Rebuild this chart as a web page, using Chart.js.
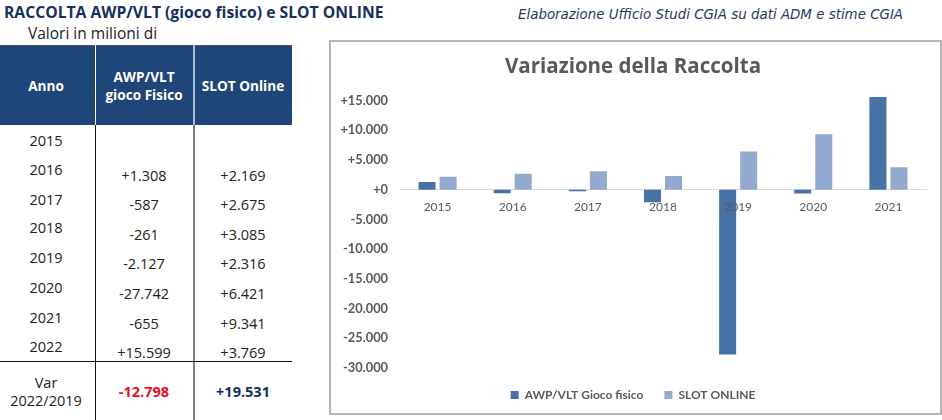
<!DOCTYPE html>
<html>
<head>
<meta charset="utf-8">
<script src="https://cdn.jsdelivr.net/npm/chart.js@4"></script>
<style>
  html, body { margin: 0; padding: 0; background: #fff; }
  body { width: 942px; height: 420px; position: relative; overflow: hidden; font-family: "Lato", sans-serif; }
  .abs { position: absolute; white-space: nowrap; line-height: 1; }
  .c { transform: translate(-50%, -50%); text-align: center; }
  #head { left: 4px; top: 5px; font-size: 15.7px; font-weight: 700; color: #14305f; font-family: "Open Sans", sans-serif; }
  #source { left: 518px; top: 8px; font-size: 13.4px; font-style: italic; color: #1f3864; font-family: "DejaVu Sans", sans-serif; }
  #unit { left: 28px; top: 26px; font-size: 15.5px; color: #222; font-family: "Open Sans", sans-serif; }
  #band { left: 0; top: 45px; width: 292px; height: 80px; background: #1f4678; border-top: 1px solid #555; box-sizing: border-box; }
  .th { color: #fff; font-weight: 700; font-size: 13.6px; line-height: 18px; font-family: "Open Sans", sans-serif; }
  .td { color: #222; font-size: 14.5px; font-family: "Open Sans", sans-serif; }
  #chart-box { position: absolute; left: 329px; top: 40px; width: 613px; height: 375px; box-sizing: border-box; border: 2px solid #b4b4b4; background: #fff; }
  #chart-box canvas { display: block; }
</style>
</head>
<body>
<div id="table"></div>
<div id="chart-box"><canvas id="raccolta-chart"></canvas></div>
<script>
// dati
const chartYears = ['2015', '2016', '2017', '2018', '2019', '2020', '2021'];
const awpValues = [1308, -587, -261, -2127, -27742, -655, 15599];
const slotValues = [2169, 2675, 3085, 2316, 6421, 9341, 3769];
const yTickValues = [-30000, -25000, -20000, -15000, -10000, -5000, 0, 5000, 10000, 15000];

// tabella a sinistra
const tableYears = ['2015', '2016', '2017', '2018', '2019', '2020', '2021', '2022'];
const tableAwp = ['+1.308', '-587', '-261', '-2.127', '-27.742', '-655', '+15.599'];
const tableSlot = ['+2.169', '+2.675', '+3.085', '+2.316', '+6.421', '+9.341', '+3.769'];
const yearRows = [141, 170, 200, 228, 258, 288, 318, 347];
const valueRows = [176, 205, 235, 264, 294, 324, 353];

const table = document.getElementById('table');

function addDiv(cls, id, html, x, y) {
  const d = document.createElement('div');
  d.className = 'abs ' + cls;
  if (id) d.id = id;
  d.innerHTML = html;
  if (x !== undefined) { d.style.left = x + 'px'; d.style.top = y + 'px'; }
  table.appendChild(d);
  return d;
}

function addLine(x, y, w, h, color) {
  const d = document.createElement('div');
  d.className = 'abs';
  d.style.cssText = `left:${x}px;top:${y}px;width:${w}px;height:${h}px;background:${color}`;
  table.appendChild(d);
}

addDiv('', 'head', 'RACCOLTA AWP/VLT (gioco fisico) e SLOT ONLINE');
addDiv('', 'source', 'Elaborazione Ufficio Studi CGIA su dati ADM e stime CGIA');
addDiv('', 'unit', 'Valori in milioni di');
addDiv('', 'band', '');
addLine(95, 45, 1, 80, '#fff');
addLine(193, 45, 2, 80, '#a9bcd6');
addLine(95, 125, 1, 295, '#111');
addLine(193, 125, 2, 295, '#808080');
addLine(0, 361, 292, 1, '#111');

addDiv('th c', '', 'Anno', 46, 86);
addDiv('th c', '', 'AWP/VLT<br>gioco Fisico', 144, 86);
addDiv('th c', '', 'SLOT Online', 243, 86);

tableYears.forEach((y, i) => addDiv('td c', '', y, 46, yearRows[i]));
tableAwp.forEach((v, i) => addDiv('td c', '', v, 144, valueRows[i]));
tableSlot.forEach((v, i) => addDiv('td c', '', v, 243, valueRows[i]));
addDiv('td c', '', 'Var', 46, 383);
addDiv('td c', '', '2022/2019', 46, 401);
addDiv('td c', '', '<b style="color:#e8101c">-12.798</b>', 144, 392);
addDiv('td c', '', '<b style="color:#14305f">+19.531</b>', 243, 392);

const canvas = document.getElementById('raccolta-chart');
canvas.style.width = '609px';
canvas.style.height = '371px';

const signed = v => (v >= 0 ? '+' : '-') + String(Math.abs(v)).replace(/\B(?=(\d{3})+$)/g, '.');

new Chart(canvas, {
  type: 'bar',
  data: {
    labels: chartYears,
    datasets: [
      { label: 'AWP/VLT Gioco fisico', data: awpValues, backgroundColor: '#4672a6', categoryPercentage: 0.56, barPercentage: 0.81 },
      { label: 'SLOT ONLINE', data: slotValues, backgroundColor: '#94a9cf', categoryPercentage: 0.56, barPercentage: 0.81 }
    ]
  },
  options: {
    responsive: false,
    animation: false,
    devicePixelRatio: 1,
    layout: { padding: { left: 9, right: 14, top: 0, bottom: 2 } },
    plugins: {
      title: {
        display: true,
        text: 'Variazione della Raccolta',
        color: '#595959',
        font: { family: 'Open Sans', size: 20.5, weight: 'bold' },
        padding: { top: 13, bottom: 15 }
      },
      legend: {
        position: 'bottom',
        labels: {
          boxWidth: 8,
          boxHeight: 8,
          padding: 21,
          color: '#595959',
          font: { family: 'Lato', size: 12, weight: 'bold' }
        }
      },
      tooltip: { enabled: false }
    },
    scales: {
      x: {
        position: { y: 0 },
        grid: { display: false, drawTicks: false },
        border: { display: true, color: '#d9d9d9', width: 1 },
        ticks: { color: '#595959', padding: 10, z: 1, maxRotation: 0, font: { family: 'Lato', size: 12 } }
      },
      y: {
        min: -30000,
        max: 16000,
        afterBuildTicks: axis => {
          axis.ticks = yTickValues.map(value => ({ value }));
        },
        afterFit: axis => { axis.width = 60; },
        grid: { display: false },
        border: { display: false },
        ticks: {
          autoSkip: false,
          color: '#595959',
          padding: 4,
          font: { family: 'Lato', size: 12.8, weight: 'bold' },
          callback: v => signed(v)
        }
      }
    }
  }
});
</script>
</body>
</html>
